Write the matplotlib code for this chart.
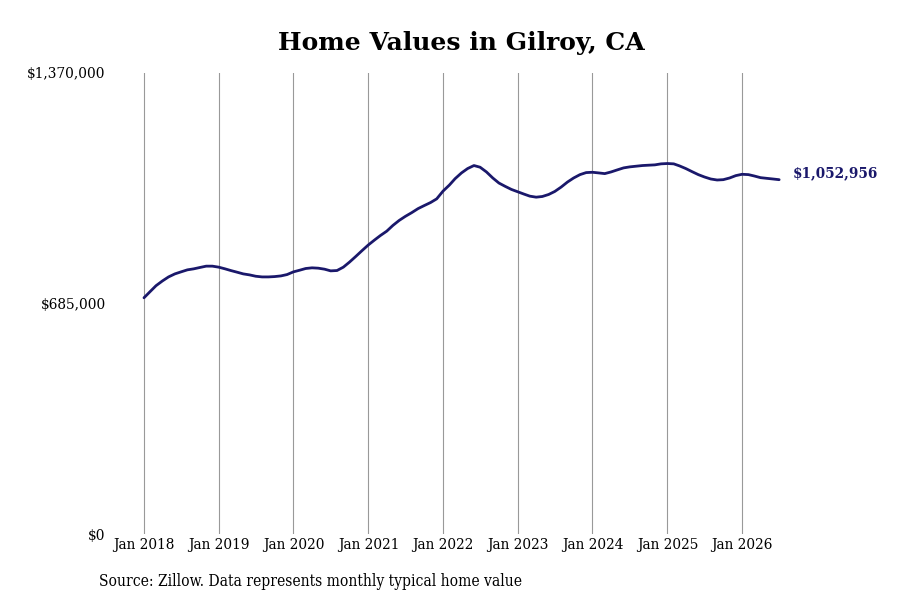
import matplotlib
matplotlib.use('Agg')
import matplotlib.pyplot as plt
import matplotlib.dates as mdates
import pandas as pd

# valores mensuales (ene 2018 - jul 2026)
values_2018 = [702000, 721000, 738000, 752000, 764000, 773000, 779000, 785000, 788000, 792000, 796000, 796000]
values_2019 = [793000, 788000, 783000, 778000, 773000, 770000, 766000, 764000, 764000, 765000, 767000, 771000]
values_2020 = [779000, 784000, 789000, 791000, 790000, 787000, 782000, 783000, 793000, 808000, 825000, 842000]
values_2021 = [859000, 874000, 887000, 900000, 917000, 932000, 944000, 955000, 967000, 976000, 985000, 996000]
values_2022 = [1019000, 1037000, 1056000, 1073000, 1086000, 1095000, 1090000, 1076000, 1058000, 1043000, 1033000, 1024000]
values_2023 = [1017000, 1010000, 1004000, 1001000, 1003000, 1009000, 1018000, 1031000, 1046000, 1058000, 1068000, 1074000]
values_2024 = [1075000, 1073000, 1071000, 1076000, 1082000, 1088000, 1091000, 1093000, 1095000, 1096000, 1097000, 1100000]
values_2025 = [1101000, 1100000, 1094000, 1086000, 1077000, 1068000, 1061000, 1055000, 1052000, 1053000, 1058000, 1065000]
values_2026 = [1069000, 1068000, 1064000, 1059000, 1057000, 1055000, 1052956]

values = (values_2018 + values_2019 + values_2020 + values_2021 + values_2022
          + values_2023 + values_2024 + values_2025 + values_2026)
dates = pd.date_range('2018-01-01', periods=len(values), freq='MS')

y_ticks = [0, 685000, 1370000]
y_tick_labels = ['$0', '$685,000', '$1,370,000']
x_years = list(range(2018, 2027))

line_color = '#1a186b'
serif = 'DejaVu Serif'

fig = plt.figure(figsize=(9, 6), dpi=100)
ax = fig.add_axes([110 / 900, 66 / 600, 680 / 900, 461 / 600])

ax.plot(dates, values, color=line_color, linewidth=2.0, solid_capstyle='round',
        solid_joinstyle='round')

ax.set_ylim(0, 1370000)
ax.set_xlim(pd.Timestamp('2017-07-19'), pd.Timestamp('2026-08-23'))

ax.set_yticks(y_ticks)
ax.set_yticklabels(y_tick_labels)
ax.set_xticks([pd.Timestamp(f'{y}-01-01') for y in x_years])
ax.xaxis.set_major_formatter(mdates.DateFormatter('Jan %Y'))

ax.grid(True, axis='x', color='#999999', linewidth=0.8)
ax.grid(False, axis='y')
for s in ax.spines.values():
    s.set_visible(False)
ax.tick_params(axis='both', length=0, labelsize=11)
ax.tick_params(axis='x', pad=3)
ax.tick_params(axis='y', pad=3)
for lab in ax.get_xticklabels() + ax.get_yticklabels():
    lab.set_family(serif)
    lab.set_stretch('condensed')

# etiqueta del ultimo valor
ax.annotate(f'${values[-1]:,}', xy=(dates[-1], values[-1]), xytext=(10, 4.5),
            textcoords='offset points', va='center', ha='left',
            fontsize=9.8, fontweight='bold', color=line_color, family=serif)

fig.text(461 / 900, 1 - 43 / 600, 'Home Values in Gilroy, CA', ha='center', va='center',
         fontsize=18, fontweight='bold', family=serif)
fig.text(99 / 900, 1 - 582 / 600, 'Source: Zillow. Data represents monthly typical home value',
         ha='left', va='center', fontsize=11.2, family=serif, stretch='condensed')

fig.savefig('out.png', dpi=100)
